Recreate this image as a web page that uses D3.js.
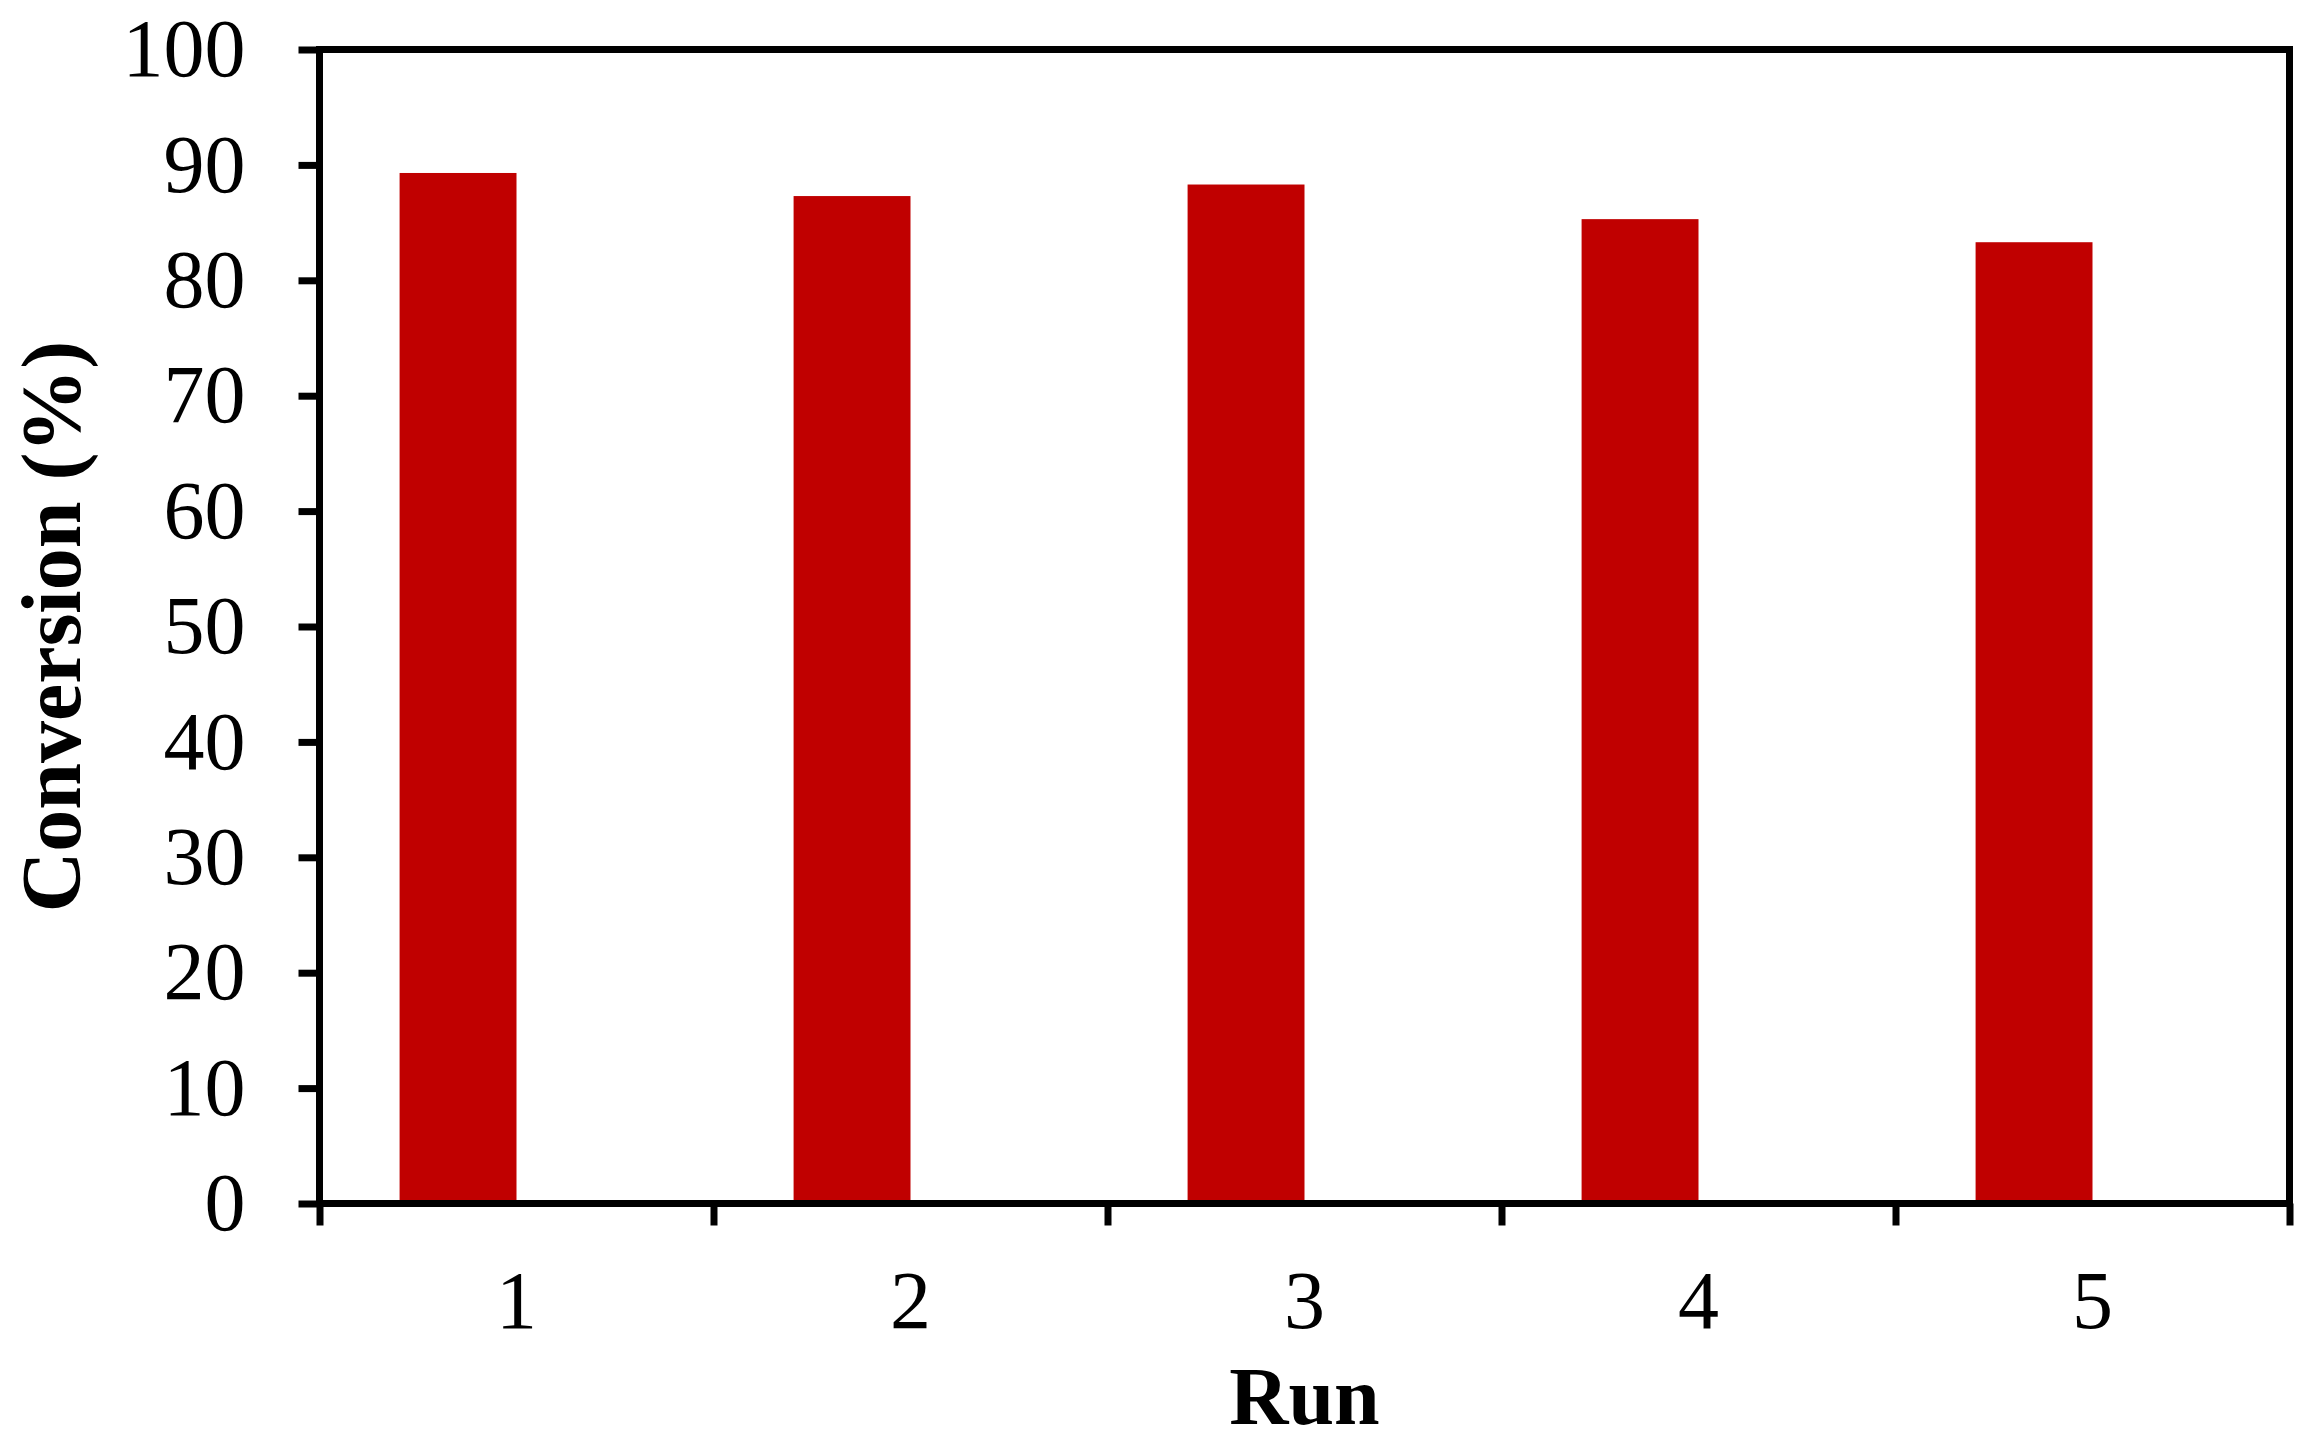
<!DOCTYPE html>
<html>
<head>
<meta charset="utf-8">
<script src="https://cdn.jsdelivr.net/npm/d3@7"></script>
<style>
  body { margin: 0; background: #fff; }
  text { font-family: "Liberation Serif", "Times New Roman", serif; }
</style>
</head>
<body>
<div id="chart"></div>
<script>
// data
var runs = ["1", "2", "3", "4", "5"];
var conversion = [89.3, 87.3, 88.3, 85.3, 83.3];
var yTicks = [0, 10, 20, 30, 40, 50, 60, 70, 80, 90, 100];

var margin = {top: 49.5, right: 30.5, bottom: 240.5, left: 319.5},
    width = 2320 - margin.left - margin.right,
    height = 1444 - margin.top - margin.bottom;

var data = runs.map((r, i) => ({run: r, value: conversion[i]}));

var svg = d3.select('#chart')
  .append('svg')
  .attr('width', 2320)
  .attr('height', 1444)
  .append('g')
  .attr('transform', `translate(${margin.left},${margin.top})`);

// category scale, and a two-slot scale inside each category (bar sits in the first slot)
var x = d3.scaleBand()
  .domain(runs)
  .range([0, width])
  .padding(0);

var xSub = d3.scaleBand()
  .domain(["conv", "empty"])
  .range([0, x.bandwidth()])
  .paddingInner(0)
  .paddingOuter(0.685);

var y = d3.scaleLinear()
  .domain([0, 100])
  .range([height, 0]);

// bars
svg.selectAll("rect.bar")
  .data(data)
  .enter().append("rect")
  .attr("class", "bar")
  .attr("x", d => x(d.run) + xSub("conv"))
  .attr("y", d => y(d.value))
  .attr("width", xSub.bandwidth())
  .attr("height", d => height - y(d.value))
  .attr("fill", "#C00000");

// y axis
var yAxis = svg.append("g")
  .call(d3.axisLeft(y).tickValues(yTicks).tickSize(21).tickSizeOuter(0).tickPadding(53));
yAxis.select(".domain").remove();
yAxis.selectAll("line").attr("stroke", "#000").attr("stroke-width", 7);
yAxis.selectAll("text")
  .style("font-size", "82px")
  .style("font-family", '"Liberation Serif", "Times New Roman", serif')
  .attr("fill", "#000");

// x axis ticks sit on the category boundaries
var xEdge = d3.scaleLinear().domain([0, runs.length]).range([0, width]);
var xTickAxis = svg.append("g")
  .attr("transform", `translate(0,${height})`)
  .call(d3.axisBottom(xEdge).tickValues(d3.range(runs.length + 1)).tickFormat("").tickSize(22).tickSizeOuter(0));
xTickAxis.select(".domain").remove();
xTickAxis.selectAll("line").attr("stroke", "#000").attr("stroke-width", 7);

// x labels at category centres
var xLabelAxis = svg.append("g")
  .attr("transform", `translate(0,${height})`)
  .call(d3.axisBottom(x).tickSize(0).tickPadding(66));
xLabelAxis.select(".domain").remove();
xLabelAxis.selectAll("text")
  .style("font-size", "82px")
  .style("font-family", '"Liberation Serif", "Times New Roman", serif')
  .attr("fill", "#000");

// plot frame
svg.append("rect")
  .attr("x", 0)
  .attr("y", 0)
  .attr("width", width)
  .attr("height", height)
  .attr("fill", "none")
  .attr("stroke", "#000")
  .attr("stroke-width", 7);

// axis titles
svg.append("text")
  .attr("x", width / 2)
  .attr("y", 1424 - margin.top)
  .attr("text-anchor", "middle")
  .style("font-size", "82px")
  .style("font-weight", "bold")
  .text("Run");

svg.append("text")
  .attr("transform", "rotate(-90)")
  .attr("x", 0 - (height / 2))
  .attr("y", 80 - margin.left)
  .attr("text-anchor", "middle")
  .style("font-size", "84px")
  .style("font-weight", "bold")
  .text("Conversion (%)");
</script>
</body>
</html>
